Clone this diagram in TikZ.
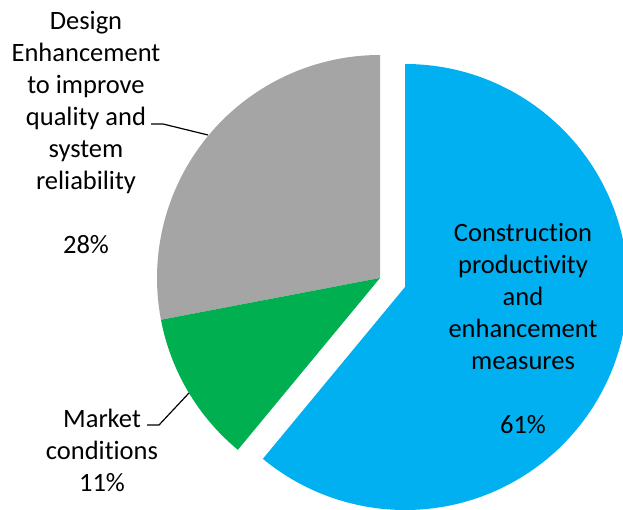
\documentclass[tikz,border=0pt]{standalone}
\usepackage{fontspec}
\setmainfont{Carlito}[Ligatures=NoCommon]
\definecolor{slgray}{HTML}{A5A5A5}
\definecolor{slgreen}{HTML}{00B050}
\definecolor{slblue}{HTML}{00B0F0}
\begin{document}
\begin{tikzpicture}[x=1pt,y=1pt,
  lbl/.style={align=center,inner sep=0pt,anchor=north,font=\fontsize{26.5}{32}\selectfont},
  leader/.style={draw=black,line width=1.2pt}]
\useasboundingbox (0,0) rectangle (623,509);
\fill[white] (0,0) rectangle (623,509);
\begin{scope}
\clip (0,0) rectangle (623,509);
\coordinate (c) at (380,231);
\coordinate (cb) at (405,222);
% Gray 28%
\fill[slgray] (c) -- ++(90:223pt) arc[start angle=90,end angle=190.8,radius=223pt] -- cycle;
% Green 11%
\fill[slgreen] (c) -- ++(190.8:223pt) arc[start angle=190.8,end angle=230.4,radius=223pt] -- cycle;
% Blue 61% (exploded)
\fill[slblue] (cb) -- ++(90:223pt) arc[start angle=90,end angle=-129.6,radius=223pt] -- cycle;
\end{scope}
% labels
\node[lbl] (glabel) at (86,498) {Design\\Enhancement\\to improve\\quality and\\system\\reliability\\[32pt]28\%};
\node[lbl] (blabel) at (523,285.5) {Construction\\productivity\\and\\enhancement\\measures\\[32pt]61\%};
\node[lbl] (mlabel) at (102,100.5) {Market\\conditions\\11\%};
% leader lines
\coordinate (g1) at (151,385);
\coordinate (g2) at (163,385);
\coordinate (g3) at (208,374);
\coordinate (m1) at (147,84);
\coordinate (m2) at (159,84);
\coordinate (m3) at (189,116);
\draw[leader] (g1) -- (g2) -- (g3);
\draw[leader] (m1) -- (m2) -- (m3);
\end{tikzpicture}
\end{document}
